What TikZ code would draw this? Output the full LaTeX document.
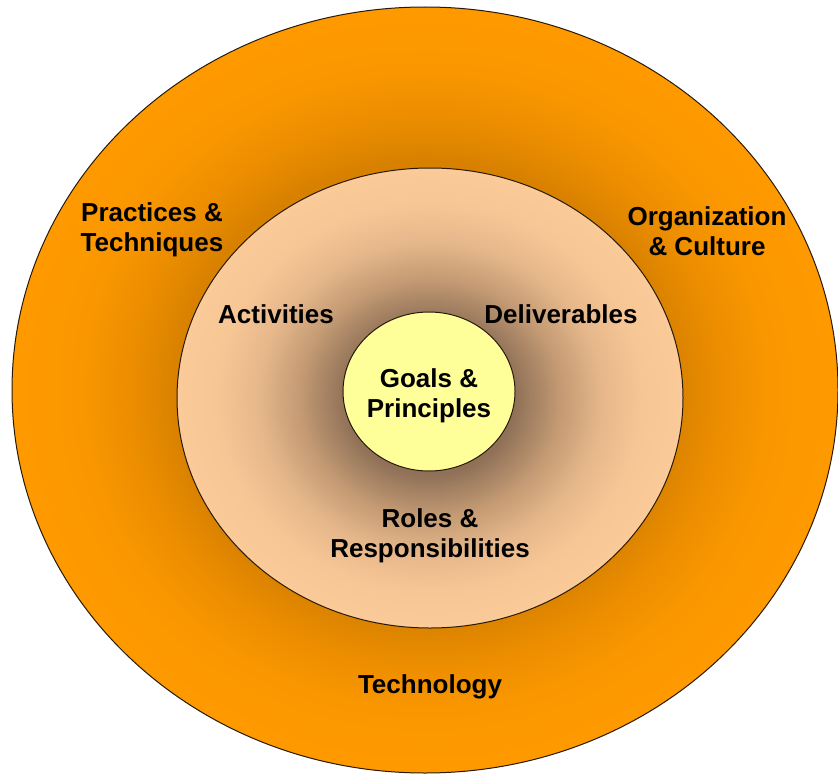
\documentclass[tikz,border=0pt]{standalone}
\usepackage{fontspec}
\setmainfont{Liberation Sans}
\usetikzlibrary{shapes.geometric}

% radial fills, darker toward the centre of each ring
\pgfdeclareradialshading{outerring}{\pgfpoint{0bp}{0bp}}{%
  color(0bp)=(rgb,255:red,190;green,110;blue,0);
  color(15bp)=(rgb,255:red,216;green,129;blue,0);
  color(18bp)=(rgb,255:red,237;green,142;blue,0);
  color(21bp)=(rgb,255:red,250;green,151;blue,0);
  color(25bp)=(rgb,255:red,255;green,153;blue,0);
  color(50bp)=(rgb,255:red,255;green,153;blue,0)}
\pgfdeclareradialshading{middlering}{\pgfpoint{0bp}{0bp}}{%
  color(0bp)=(rgb,255:red,110;green,85;blue,65);
  color(8.5bp)=(rgb,255:red,145;green,114;blue,88);
  color(13bp)=(rgb,255:red,196;green,155;blue,116);
  color(17bp)=(rgb,255:red,230;green,183;blue,139);
  color(21bp)=(rgb,255:red,247;green,198;blue,149);
  color(25bp)=(rgb,255:red,250;green,202;blue,152);
  color(50bp)=(rgb,255:red,250;green,202;blue,152)}

\definecolor{edgeline}{RGB}{40,25,10}
\definecolor{coreyellow}{RGB}{255,255,153}

\tikzset{
  ring/.style={draw=edgeline, line width=1bp},
  label/.style={font=\bfseries\fontsize{26.1}{30.1}\selectfont, align=center, inner sep=0pt, text=black}
}

\begin{document}
\begin{tikzpicture}[x=1bp,y=-1bp]
\useasboundingbox (0,0) rectangle (838,776);

% outer ring
\shade[ring, shading=outerring] (425,390) ellipse [x radius=413, y radius=383];
% middle ring
\shade[ring, shading=middlering] (430,398) ellipse [x radius=253, y radius=230];
% core
\node[ring, ellipse, fill=coreyellow, minimum width=172bp, minimum height=159bp, inner sep=0pt] (core) at (429,391.5) {};

\node[label] (goals) at (429,396) {Goals \&\\Principles};

\node[label] (activities) at (276,314) {Activities};
\node[label] (deliverables) at (561,314) {Deliverables};
\node[label] (roles) at (430,536) {Roles \&\\Responsibilities};

\node[label] (practices) at (152,230) {Practices \&\\Techniques};
\node[label] (organization) at (707,231) {Organization\\\& Culture};
\node[label] (technology) at (430,687) {Technology};
\end{tikzpicture}
\end{document}
